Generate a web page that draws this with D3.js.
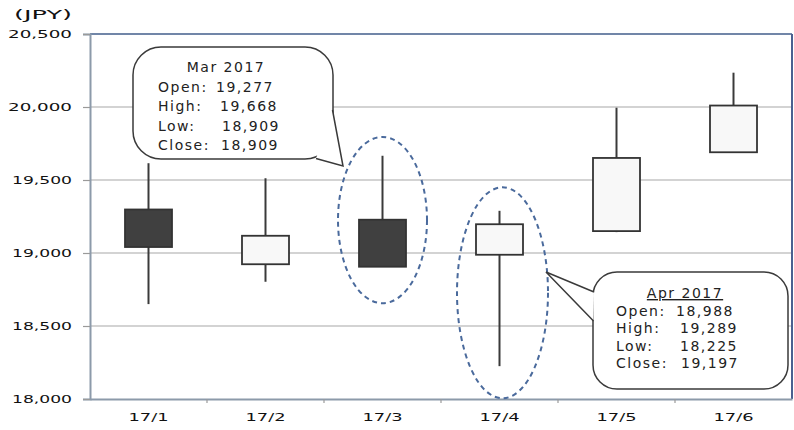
<!DOCTYPE html>
<html>
<head>
<meta charset="utf-8">
<script src="https://cdn.jsdelivr.net/npm/d3@7"></script>
<style>
  body { margin: 0; background: #fff; }
  svg { display: block; }
  .axisTxt { font-family: "DejaVu Sans", sans-serif; fill: #111; }
  .note { font-family: "DejaVu Sans", sans-serif; font-size: 14px; fill: #222; letter-spacing: 1.5px; }
</style>
</head>
<body>
<svg id="chart" width="794" height="430"></svg>
<script>

// monthly candles, Nikkei 2017 (JPY) - as drawn
var months = ['17/1', '17/2', '17/3', '17/4', '17/5', '17/6'];
var openVals  = [19298, 18923, 19228, 18988, 19150, 19690];
var highVals  = [19615, 19512, 19666, 19289, 19995, 20235];
var lowVals   = [18650, 18803, 18906, 18225, 19143, 19686];
var closeVals = [19041, 19118, 18906, 19197, 19651, 20010];
var yTicks = [18000, 18500, 19000, 19500, 20000, 20500];

// callout texts as printed
var marNote = ['19,277', '19,668', '18,909', '18,909'];
var aprNote = ['18,988', '19,289', '18,225', '19,197'];

var candles = months.map(function(m, i){
  return {m: m, o: openVals[i], h: highVals[i], l: lowVals[i], c: closeVals[i]};
});

// note: "top" is taken by window.top, so plot edges get their own names
var pLeft = 90, pRight = 792, pTop = 34, pBottom = 399;

var svg = d3.select('#chart');

var x = d3.scaleBand().domain(months).range([pLeft, pRight]);
var y = d3.scaleLinear().domain([18000, 20500]).range([pBottom, pTop]);

// grid
svg.append('g').selectAll('line').data(yTicks.slice(1, -1)).enter().append('line')
  .attr('x1', pLeft).attr('x2', pRight)
  .attr('y1', function(d){ return y(d); }).attr('y2', function(d){ return y(d); })
  .attr('stroke', '#a8a8a8').attr('stroke-width', 1.2);

// plot border top / right
svg.append('line').attr('x1', pLeft).attr('x2', pRight).attr('y1', pTop).attr('y2', pTop)
  .attr('stroke', '#7186a8').attr('stroke-width', 2);
svg.append('line').attr('x1', pRight).attr('x2', pRight).attr('y1', pTop).attr('y2', pBottom)
  .attr('stroke', '#4a6090').attr('stroke-width', 2);

// y axis
var yAxis = d3.axisLeft(y).tickValues(yTicks).tickSize(7).tickFormat('');
var gy = svg.append('g').attr('transform', 'translate(' + pLeft + ',0)').call(yAxis);
gy.select('.domain').attr('stroke', '#8c9aaa').attr('stroke-width', 2);
gy.selectAll('.tick line').attr('stroke', '#9a9a9a').attr('stroke-width', 1.2);

svg.append('g').selectAll('text').data(yTicks).enter().append('text')
  .attr('class', 'axisTxt')
  .attr('x', 72).attr('y', function(d){ return y(d) + 4; })
  .attr('text-anchor', 'end')
  .attr('font-size', 10.5)
  .attr('textLength', function(d){ return d >= 20000 ? 64 : 60; })
  .attr('lengthAdjust', 'spacingAndGlyphs')
  .text(function(d){ return d3.format(',')(d); });

svg.append('text').attr('class', 'axisTxt')
  .attr('x', 14).attr('y', 19).attr('font-size', 12)
  .attr('textLength', 58).attr('lengthAdjust', 'spacingAndGlyphs')
  .text('(JPY)');

// x axis
var xAxis = d3.axisBottom(x).tickSize(0).tickFormat('');
var gx = svg.append('g').attr('transform', 'translate(0,' + pBottom + ')').call(xAxis);
gx.select('.domain').attr('stroke', '#8c9aaa').attr('stroke-width', 2);
gx.append('g').selectAll('line').data(months.slice(0, -1)).enter().append('line')
  .attr('x1', function(d){ return x(d) + x.bandwidth(); })
  .attr('x2', function(d){ return x(d) + x.bandwidth(); })
  .attr('y1', 0).attr('y2', 4)
  .attr('stroke', '#9a9a9a').attr('stroke-width', 1.2);

svg.append('g').selectAll('text').data(months).enter().append('text')
  .attr('class', 'axisTxt')
  .attr('x', function(d){ return x(d) + x.bandwidth() / 2; })
  .attr('y', 421)
  .attr('text-anchor', 'middle')
  .attr('font-size', 11)
  .attr('textLength', 40).attr('lengthAdjust', 'spacingAndGlyphs')
  .text(function(d){ return d; });

// candles
var boxW = 47;
var g = svg.append('g');
g.selectAll('line.wick').data(candles).enter().append('line')
  .attr('class', 'wick')
  .attr('x1', function(d){ return x(d.m) + x.bandwidth() / 2; })
  .attr('x2', function(d){ return x(d.m) + x.bandwidth() / 2; })
  .attr('y1', function(d){ return y(d.h); })
  .attr('y2', function(d){ return y(d.l); })
  .attr('stroke', '#3a3a3a').attr('stroke-width', 2);

g.selectAll('rect').data(candles).enter().append('rect')
  .attr('x', function(d){ return x(d.m) + x.bandwidth() / 2 - boxW / 2; })
  .attr('y', function(d){ return y(Math.max(d.o, d.c)); })
  .attr('width', boxW)
  .attr('height', function(d){ return Math.abs(y(d.o) - y(d.c)); })
  .attr('fill', function(d){ return d.c < d.o ? '#404040' : '#f8f8f8'; })
  .attr('stroke', '#333').attr('stroke-width', 1.8);

// dashed ellipses round Mar and Apr
var rings = [{m: '17/3', hi: 19795, lo: 18656, rx: 44.5}, {m: '17/4', hi: 19450, lo: 18005, rx: 45.5}];
svg.append('g').selectAll('ellipse').data(rings).enter().append('ellipse')
  .attr('cx', function(d){ return x(d.m) + x.bandwidth() / 2 + (d.m === '17/4' ? 3 : 0); })
  .attr('cy', function(d){ return (y(d.hi) + y(d.lo)) / 2; })
  .attr('rx', function(d){ return d.rx; })
  .attr('ry', function(d){ return (y(d.lo) - y(d.hi)) / 2; })
  .attr('fill', 'none')
  .attr('stroke', '#4a6a9c').attr('stroke-width', 2)
  .attr('stroke-dasharray', '5,4');

// callouts
function callout(bx, by, bw, bh, r, tail, tip) {
  svg.append('rect').attr('x', bx).attr('y', by).attr('width', bw).attr('height', bh)
    .attr('rx', r).attr('ry', r)
    .attr('fill', '#fff').attr('stroke', '#3a3a3a').attr('stroke-width', 1.5);
  // white wedge covers the box edge where the tail joins
  svg.append('path')
    .attr('d', 'M' + tail[0] + 'L' + tip + 'L' + tail[1] + 'Z')
    .attr('fill', '#fff').attr('stroke', 'none');
  svg.append('path')
    .attr('d', 'M' + tail[0] + 'L' + tip + 'L' + tail[1])
    .attr('fill', 'none').attr('stroke', '#3a3a3a').attr('stroke-width', 1.5);
}

callout(133, 47, 200, 112, 28, [[332.5, 110], [316, 158.5]], [343, 166]);
callout(593, 272, 195, 117, 24, [[594, 292], [593.5, 321]], [546, 272]);

function noteText(title, cx, ty, lx, vx, step, vals, underline) {
  var t = svg.append('text').attr('class', 'note')
    .attr('x', cx).attr('y', ty).attr('text-anchor', 'middle').text(title);
  if (underline) t.attr('text-decoration', 'underline');
  var labels = ['Open:', 'High:', 'Low:', 'Close:'];
  labels.forEach(function(l, i){
    svg.append('text').attr('class', 'note')
      .attr('x', lx).attr('y', ty + step * (i + 1)).text(l);
    svg.append('text').attr('class', 'note')
      .attr('x', vx[i]).attr('y', ty + step * (i + 1)).text(vals[i]);
  });
}

noteText('Mar 2017', 226, 72, 158, [216, 220, 222, 221], 19.5, marNote, false);
noteText('Apr 2017', 685, 298, 616, [676, 680, 680, 681], 17.5, aprNote, true);

</script>
</body>
</html>
